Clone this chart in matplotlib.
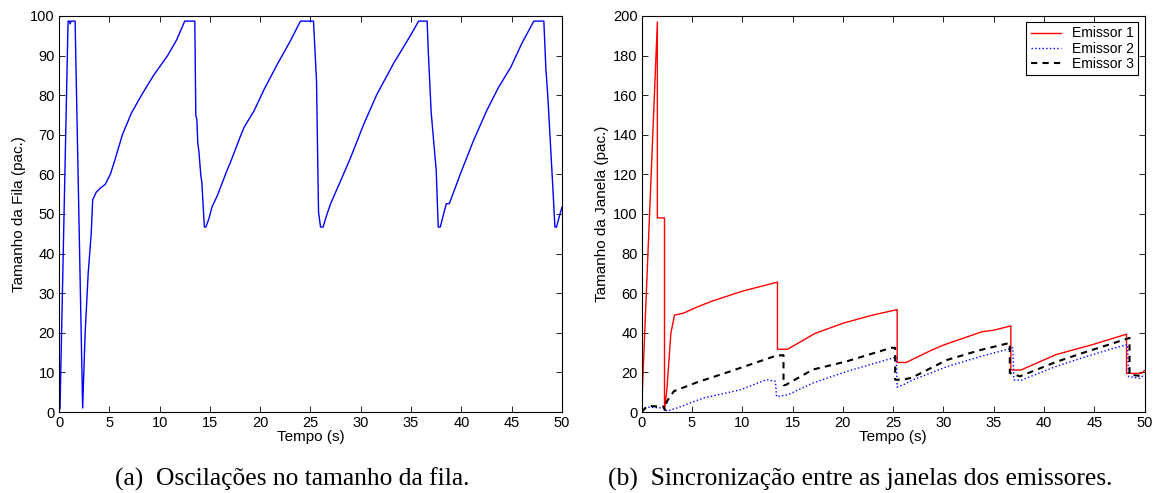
import matplotlib
matplotlib.use("Agg")
import matplotlib.pyplot as plt
import numpy as np

plt.rcParams["font.family"] = ["Liberation Sans", "DejaVu Sans"]

# (a) queue size over time
t_fila = [0, 0.1, 0.9, 1.05, 1.1, 1.2, 1.6, 2.35, 2.6, 2.9, 3.2, 3.35, 3.7, 4.1, 4.6,
          5.1, 5.6, 6.3, 7.2, 8.2, 9.4, 10.8, 11.7, 12.5, 13.5, 13.6, 13.7, 13.8,
          13.9, 14.1, 14.2, 14.45, 14.6, 14.9, 15.2, 15.75, 16.7, 17.05, 18.0, 18.4,
          19.4, 20.4, 21.7, 23.0, 24.0, 25.3, 25.6, 25.8, 26.0, 26.25, 26.65, 27.0,
          28.0, 29.0, 30.3, 31.6, 33.3, 34.9, 35.75, 36.6, 36.7, 37.0, 37.3, 37.5,
          37.7, 37.9, 38.5, 38.8, 39.9, 41.2, 42.5, 43.7, 44.9, 46.0, 47.2, 48.2,
          48.4, 48.6, 48.9, 49.1, 49.3, 49.45, 50.0]
fila = [0, 1, 98.7, 98.7, 98, 98.7, 98.7, 1, 20, 35, 45, 53.6, 55.5, 56.5, 57.5,
        60, 64, 70, 75.5, 80, 85, 90, 94, 98.7, 98.7, 74.8, 74, 67.7,
        66, 59.7, 58, 46.7, 46.7, 48.8, 51.7, 54.7, 61, 63.1, 69.4, 71.9,
        76.1, 81.5, 87.8, 93.7, 98.7, 98.7, 83.6, 50.5, 46.7, 46.7, 50, 52.6,
        58.4, 64.3, 72.7, 80.2, 88.2, 94.9, 98.7, 98.7, 91.6, 75.6, 66.8, 61,
        46.7, 46.7, 52.6, 52.6, 60.1, 68.5, 76, 82, 87, 93, 98.7, 98.7,
        86.7, 79.5, 65.6, 56.4, 46.7, 46.7, 51.7]

# (b) congestion windows of the three senders
t_e1 = [0, 1.56, 1.56, 2.27, 2.27, 2.5, 2.9, 3.26, 4.2, 5.5, 7, 10, 13.5, 13.5,
        14.5, 17.2, 20.0, 23, 25.4, 25.4, 26.3, 28.8, 30, 33.8, 35, 36.7, 36.7,
        37.7, 41.2, 44.8, 48.2, 48.2, 49.7, 50]
e1 = [2, 197, 98, 98, 1, 11, 39.6, 48.9, 50, 53, 56, 61, 65.6, 31.7,
      31.7, 39.6, 44.8, 49, 51.7, 25, 25, 31.2, 33.8, 40.5, 41.3, 43.5, 21.2,
      21.2, 29, 34, 39.3, 19.5, 19.5, 21]

t_e2 = [0, 0.5, 2.2, 2.5, 3.5, 6.1, 9.8, 12.4, 13.3, 13.4, 14.5, 17.0, 20.4,
        25.0, 25.3, 25.4, 26.0, 27.0, 30.3, 33.6, 36.9, 37.0, 37.7, 41.2, 44.2,
        46.8, 48.3, 48.4, 49.5, 50]
e2 = [1, 2.5, 2, 0.5, 2, 7, 11.2, 16.3, 15.5, 7.8, 8.6, 14.6, 20.5,
      27.3, 27.9, 12.6, 13.7, 16.3, 22.8, 27.9, 32.4, 16.3, 16, 23, 28,
      32, 34.1, 17.9, 17, 19]

t_e3 = [0, 0.5, 0.8, 2.2, 2.3, 2.5, 3.2, 5.5, 8.8, 13.4, 14.1, 14.1, 14.3, 17.0,
        20.4, 24.8, 25.2, 25.2, 26.0, 26.9, 30.3, 33.6, 36.6, 36.6, 37.6, 41.2,
        44.2, 46.8, 48.5, 48.5, 50]
e3 = [0, 2.7, 3, 2.7, 1, 5.3, 10.5, 15, 20.5, 28.5, 28.7, 13.6, 13.6, 21.4,
      25.6, 32.4, 32.4, 16.3, 16.3, 17.4, 26.2, 31.2, 34.9, 19.7, 18, 25.3,
      30.4, 34.6, 37.4, 18.8, 18]

fig = plt.figure(figsize=(11.57, 4.93), dpi=100)
ax1 = fig.add_axes([0.051, 0.1643, 0.4347, 0.8033])
ax2 = fig.add_axes([0.5546, 0.1643, 0.4347, 0.8033])

ax1.plot(t_fila, fila, color="#0000ff", lw=1.0)
ax1.set_xlim(0, 50)
ax1.set_ylim(0, 100)
ax1.set_xticks(np.arange(0, 51, 5))
ax1.set_yticks(np.arange(0, 101, 10))
ax1.set_xlabel("Tempo (s)", fontsize=11, labelpad=0)
ax1.set_ylabel("Tamanho da Fila (pac.)", fontsize=11, labelpad=3)

ax2.plot(t_e1, e1, color="#ff0000", lw=1.0, label="Emissor 1")
ax2.plot(t_e2, e2, color="#0000ff", lw=1.0, ls=":", label="Emissor 2")
ax2.plot(t_e3, e3, color="black", lw=1.5, ls=(0, (3, 2.5)), label="Emissor 3")
ax2.set_xlim(0, 50)
ax2.set_ylim(0, 200)
ax2.set_xticks(np.arange(0, 51, 5))
ax2.set_yticks(np.arange(0, 201, 20))
ax2.set_xlabel("Tempo (s)", fontsize=11, labelpad=0)
ax2.set_ylabel("Tamanho da Janela (pac.)", fontsize=11, labelpad=3)
leg = ax2.legend(loc="upper right", fontsize=10, fancybox=False, framealpha=1,
                 edgecolor="black", borderpad=0.3, labelspacing=0.1,
                 handlelength=2.2, borderaxespad=0.45)
leg.get_frame().set_linewidth(0.8)

for ax in (ax1, ax2):
    ax.tick_params(direction="in", top=True, right=True, labelsize=10.5,
                   length=4, width=0.6, pad=3)
    for s in ax.spines.values():
        s.set_linewidth(0.8)

fig.text(0.2528, 0.027, "(a)  Oscilações no tamanho da fila.", ha="center",
         va="center", fontsize=18.4, family="Liberation Serif")
fig.text(0.7437, 0.027, "(b)  Sincronização entre as janelas dos emissores.",
         ha="center", va="center", fontsize=18.4, family="Liberation Serif")

fig.savefig("out.png", dpi=100)
